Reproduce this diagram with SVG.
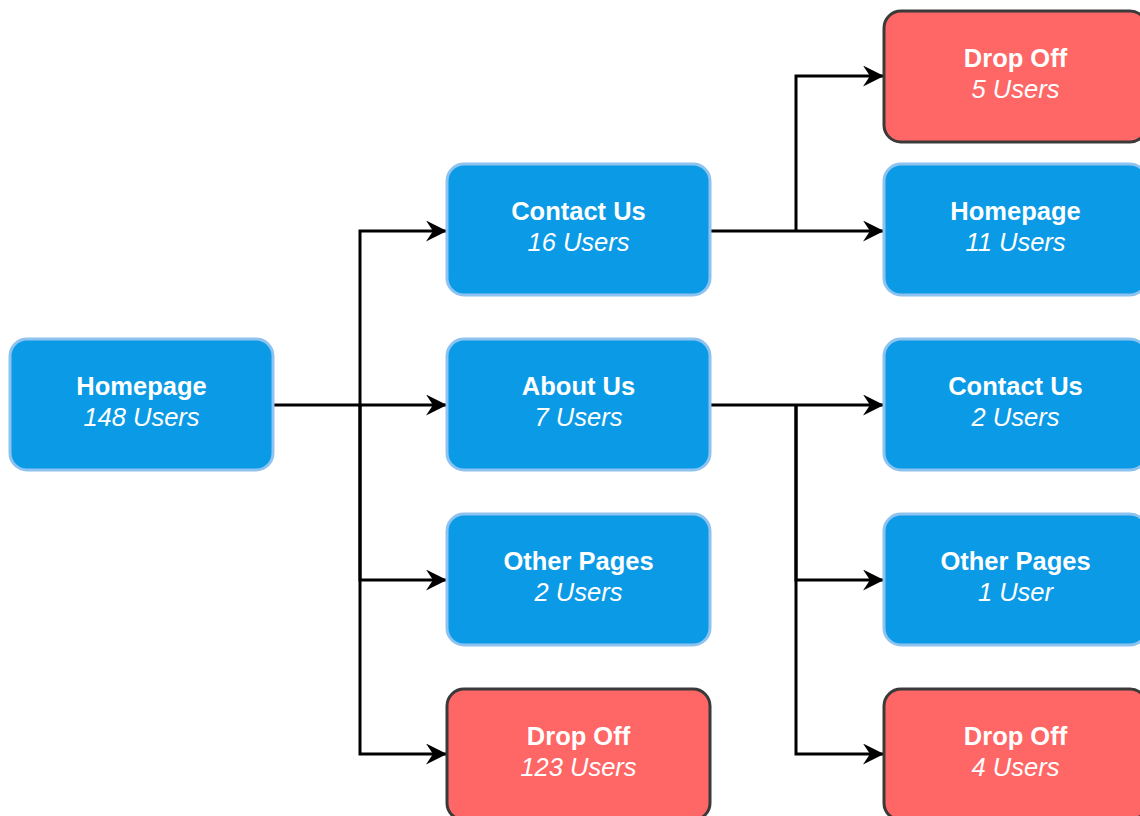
<svg xmlns="http://www.w3.org/2000/svg" width="1140" height="816" viewBox="0 0 1140 816">
  <style>
    .blue rect { fill: #0a9ae6; stroke: #8ec3f0; stroke-width: 3; }
    .red rect { fill: #ff6666; stroke: #3a3a3a; stroke-width: 3; }
    .t { font-family: "Liberation Sans", Arial, sans-serif; font-size: 25.5px; fill: #ffffff; text-anchor: middle; }
    .t1 { font-weight: bold; }
    .t2 { font-style: italic; }
    .edge { fill: none; stroke: #000000; stroke-width: 3; }
  </style>
  <defs>
    <marker id="arrow" viewBox="0 0 21 21" refX="20" refY="10.5" markerWidth="21" markerHeight="21" markerUnits="userSpaceOnUse" orient="auto">
      <path d="M0,0 L21,10.5 L0,21 L7,10.5 Z" fill="#000000"/>
    </marker>
  </defs>
  <rect width="1140" height="816" fill="#ffffff"/>

  <!-- connectors -->
  <g id="connectors">
    <path class="edge" d="M273,405 H360"/>
    <path class="edge" d="M360,405 V231 H446" marker-end="url(#arrow)"/>
    <path class="edge" d="M360,405 H446" marker-end="url(#arrow)"/>
    <path class="edge" d="M360,405 V580 H446" marker-end="url(#arrow)"/>
    <path class="edge" d="M360,405 V754 H446" marker-end="url(#arrow)"/>

    <path class="edge" d="M710,231 H796"/>
    <path class="edge" d="M796,231 V76 H883" marker-end="url(#arrow)"/>
    <path class="edge" d="M796,231 H883" marker-end="url(#arrow)"/>

    <path class="edge" d="M710,405 H796"/>
    <path class="edge" d="M796,405 H883" marker-end="url(#arrow)"/>
    <path class="edge" d="M796,405 V580 H883" marker-end="url(#arrow)"/>
    <path class="edge" d="M796,405 V754 H883" marker-end="url(#arrow)"/>
  </g>

  <!-- column 1 -->
  <g id="home-148" class="blue">
    <rect x="10" y="339" width="263" height="131" rx="17"/>
    <text class="t t1" x="141.5" y="395">Homepage</text>
    <text class="t t2" x="141.5" y="426">148 Users</text>
  </g>

  <!-- column 2 -->
  <g id="contact-16" class="blue">
    <rect x="447" y="164" width="263" height="131" rx="17"/>
    <text class="t t1" x="578.5" y="220">Contact Us</text>
    <text class="t t2" x="578.5" y="251">16 Users</text>
  </g>
  <g id="about-7" class="blue">
    <rect x="447" y="339" width="263" height="131" rx="17"/>
    <text class="t t1" x="578.5" y="395">About Us</text>
    <text class="t t2" x="578.5" y="426">7 Users</text>
  </g>
  <g id="other-2" class="blue">
    <rect x="447" y="514" width="263" height="131" rx="17"/>
    <text class="t t1" x="578.5" y="570">Other Pages</text>
    <text class="t t2" x="578.5" y="601">2 Users</text>
  </g>
  <g id="drop-123" class="red">
    <rect x="447" y="689" width="263" height="131" rx="17"/>
    <text class="t t1" x="578.5" y="745">Drop Off</text>
    <text class="t t2" x="578.5" y="776">123 Users</text>
  </g>

  <!-- column 3 -->
  <g id="drop-5" class="red">
    <rect x="884" y="11" width="263" height="131" rx="17"/>
    <text class="t t1" x="1015.5" y="67">Drop Off</text>
    <text class="t t2" x="1015.5" y="98">5 Users</text>
  </g>
  <g id="home-11" class="blue">
    <rect x="884" y="164" width="263" height="131" rx="17"/>
    <text class="t t1" x="1015.5" y="220">Homepage</text>
    <text class="t t2" x="1015.5" y="251">11 Users</text>
  </g>
  <g id="contact-2" class="blue">
    <rect x="884" y="339" width="263" height="131" rx="17"/>
    <text class="t t1" x="1015.5" y="395">Contact Us</text>
    <text class="t t2" x="1015.5" y="426">2 Users</text>
  </g>
  <g id="other-1" class="blue">
    <rect x="884" y="514" width="263" height="131" rx="17"/>
    <text class="t t1" x="1015.5" y="570">Other Pages</text>
    <text class="t t2" x="1015.5" y="601">1 User</text>
  </g>
  <g id="drop-4" class="red">
    <rect x="884" y="689" width="263" height="131" rx="17"/>
    <text class="t t1" x="1015.5" y="745">Drop Off</text>
    <text class="t t2" x="1015.5" y="776">4 Users</text>
  </g>
</svg>
